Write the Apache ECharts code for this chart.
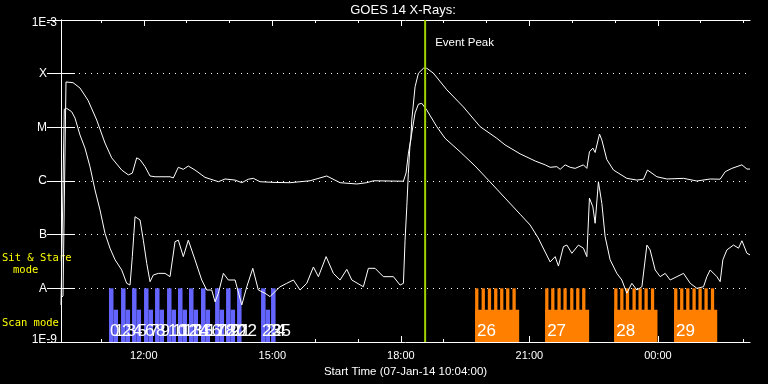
<!DOCTYPE html>
<html><head><meta charset="utf-8">
<script src="https://cdn.jsdelivr.net/npm/echarts@6/dist/echarts.min.js"></script>
<style>html,body{margin:0;padding:0;background:#000;}#c{width:768px;height:384px;}</style>
</head><body><div id="c"></div>
<script>
// x values: minutes after the start time 07-Jan-14 10:04:00
const startClockMin = 10 * 60 + 4;
const xMaxMin = 965;
const tickLabels = ['12:00', '15:00', '18:00', '21:00', '00:00'];
const yLevelLabels = ['1E-9', 'A', 'B', 'C', 'M', 'X', '1E-3'];
const yMin = 1e-9, yMax = 1e-3;
const sitLevel = 1e-8;   // Sit & Stare mode bar height
const scanLevel = 4e-9;  // Scan mode bar height
const eventPeakMin = 510;

// GOES 14 long channel (upper curve) [minutes, W/m^2]
const longChannel = [
 [0,6.6e-9],[2.8,7.2e-9],[7.0,7.0e-5],[16.8,6.8e-5],[26.6,5.4e-5],[37.8,3.2e-5],[50.0,1.37e-5],[61.6,5.1e-6],[71.0,2.7e-6],[85.0,1.6e-6],
 [94.3,1.3e-6],[99.9,1.4e-6],[106.0,2.7e-6],[110.7,2.5e-6],[117.7,1.85e-6],[124.7,1.24e-6],[131.7,1.2e-6],[152.7,1.2e-6],[157.3,1.14e-6],[164.3,1.8e-6],
 [171.3,1.65e-6],[178.3,1.9e-6],[187.7,1.6e-6],[201.7,1.17e-6],[220.4,0.97e-6],[229.8,1.09e-6],[243.8,1.04e-6],[253.2,0.93e-6],[262.4,1.08e-6],[269.4,1.12e-6],
 [278.8,0.97e-6],[299.8,0.94e-6],[320.8,0.93e-6],[348.8,1.01e-6],[372.2,1.24e-6],[390.9,0.93e-6],[414.3,0.88e-6],[428.3,0.93e-6],[437.5,1.01e-6],[479.6,0.99e-6],
 [483.3,1.41e-6],[486.6,3.3e-6],[489.9,5.8e-6],[491.3,1.37e-5],[495.9,5.7e-5],[500.6,1.02e-4],[507.6,1.26e-4],[512.3,1.26e-4],[521.6,1.02e-4],[540.4,5.0e-5],
 [563.6,2.4e-5],[587.0,1.03e-5],[610.4,6.25e-6],[622.0,4.7e-6],[643.1,3.2e-6],[664.1,2.36e-6],[678.1,2.0e-6],[685.1,1.8e-6],[694.5,1.85e-6],[699.1,1.65e-6],
 [706.1,2.0e-6],[713.1,1.8e-6],[720.1,1.72e-6],[731.7,2.0e-6],[736.5,1.72e-6],[740.1,3.5e-6],[744.9,4.1e-6],[748.1,3.4e-6],[754.2,7.5e-6],[757.5,5.8e-6],
 [764.5,2.5e-6],[773.8,1.6e-6],[792.5,1.12e-6],[806.6,1.04e-6],[815.8,1.08e-6],[821.4,1.6e-6],[834.6,1.2e-6],[848.6,1.09e-6],[871.9,1.12e-6],[890.6,1.0e-6],
 [909.2,1.09e-6],[923.2,1.08e-6],[930.3,1.49e-6],[939.6,1.72e-6],[953.7,2.0e-6],[960.7,1.67e-6],[965,1.67e-6]
];

// GOES 14 short channel (lower curve)
const shortChannel = [
 [0,4.9e-9],[2.8,4.5e-9],[4.6,2.17e-5],[8.0,2.26e-5],[15.0,1.95e-5],[19.6,1.49e-5],[26.6,7.2e-6],[33.6,4.1e-6],[40.6,1.85e-6],[47.6,6.8e-7],
 [54.6,2.9e-7],[61.6,1.06e-7],[68.6,5.6e-8],[75.7,3.4e-8],[85.0,2.2e-8],[92.0,1.24e-8],[96.7,1.15e-8],[99.9,3.9e-8],[103.7,2.16e-7],[110.7,1.88e-7],
 [115.3,7.9e-8],[120.1,2.9e-8],[124.7,1.33e-8],[129.3,1.77e-8],[136.3,1.9e-8],[145.7,1.9e-8],[152.7,1.65e-8],[159.7,7.4e-8],[164.3,7.9e-8],[171.3,3.9e-8],
 [178.3,7.9e-8],[187.7,3.4e-8],[197.1,1.43e-8],[204.1,9.3e-9],[211.1,9.3e-9],[215.8,5.6e-9],[220.4,8.1e-9],[227.4,1.9e-8],[234.4,1.43e-8],[243.8,1.43e-8],
 [253.2,4.9e-9],[260.2,1.07e-8],[268.6,2.36e-8],[276.4,9.3e-9],[285.8,8.1e-9],[292.8,7.0e-9],[297.4,8.1e-9],[306.8,1.07e-8],[316.2,1.24e-8],[325.5,1.43e-8],
 [334.8,9.3e-9],[344.2,1.24e-8],[353.5,2.5e-8],[360.5,1.65e-8],[371.3,3.9e-8],[381.5,1.9e-8],[390.9,1.43e-8],[400.3,2.26e-8],[407.3,1.43e-8],[423.5,1.07e-8],
 [430.5,2.36e-8],[439.9,2.36e-8],[451.5,1.65e-8],[465.6,1.65e-8],[474.9,1.15e-8],[479.6,1.24e-8],[481.9,7.9e-8],[484.3,3.3e-7],[486.5,1.39e-6],[488.9,5.0e-6],
 [495.9,1.85e-5],[500.6,2.7e-5],[505.3,2.8e-5],[512.3,2.1e-5],[526.3,1.03e-5],[537.9,6.25e-6],[559.0,3.5e-6],[580.0,1.9e-6],[601.0,9.6e-7],[622.0,4.8e-7],
 [643.1,2.4e-7],[657.1,1.51e-7],[668.3,8.7e-8],[678.1,4.75e-8],[685.1,3.1e-8],[692.1,3.9e-8],[696.7,2.6e-8],[703.7,6.0e-8],[708.5,6.4e-8],[715.5,4.5e-8],
 [724.7,6.4e-8],[731.7,5.6e-8],[736.5,3.9e-8],[740.1,4.8e-7],[744.9,3.3e-7],[748.1,1.63e-7],[752.7,9.7e-7],[757.5,3.8e-7],[762.1,9.2e-8],[769.1,3.4e-8],
 [778.5,1.9e-8],[785.5,1.43e-8],[792.5,8.1e-9],[799.5,1.24e-8],[806.6,9.3e-9],[813.6,1.07e-8],[820.6,6.4e-8],[825.1,5.2e-8],[832.2,2.2e-8],[839.2,1.65e-8],
 [846.2,1.9e-8],[853.2,1.43e-8],[862.6,1.65e-8],[871.9,1.9e-8],[881.3,1.24e-8],[890.6,1.0e-8],[899.9,1.07e-8],[904.6,1.65e-8],[909.2,2.2e-8],[918.6,1.65e-8],
 [923.2,1.33e-8],[927.0,3.4e-8],[932.6,5.2e-8],[941.9,6.4e-8],[948.9,5.6e-8],[953.7,7.7e-8],[960.7,4.5e-8],[965,4.2e-8]
];

// Blue observations: [label, start, end, mode]
const blueObs = [
 [0,67.2,73.5,'sit'],[1,73.5,79.8,'scan'],
 [2,84.1,90.4,'sit'],[3,90.4,96.7,'scan'],
 [4,99.5,105.8,'sit'],[5,105.8,112.1,'scan'],
 [6,116.3,122.6,'sit'],[7,122.6,128.9,'scan'],
 [8,131.7,138.0,'sit'],[9,138.0,144.3,'scan'],
 [10,148.5,154.8,'sit'],[11,154.8,161.1,'scan'],
 [12,163.9,170.2,'sit'],[13,170.2,176.5,'scan'],
 [14,179.3,185.6,'sit'],[15,185.6,191.9,'scan'],
 [16,196.1,202.4,'sit'],[17,202.4,208.7,'scan'],
 [18,215.8,222.1,'sit'],[19,222.1,228.4,'scan'],
 [20,231.2,237.5,'sit'],[21,237.5,243.8,'scan'],
 [22,246.6,252.9,'sit'],
 [23,280.2,286.5,'sit'],[24,286.5,292.8,'scan'],
 [25,294.2,300.5,'sit']
];

// Orange observations (scan mode span): [label, start, end]
const orangeObs = [[26,580.0,641.7],[27,678.1,739.7],[28,774.8,835.4],[29,858.7,919.1]];
// Orange sit & stare rasters: [start, end]
const orangeSit = [
 [580.0,584.6],[589.1,593.7],[597.8,602.4],[606.6,611.2],[615.0,619.6],[623.4,628.0],[632.3,636.9],
 [678.1,682.7],[686.5,691.1],[695.3,699.9],[703.7,708.3],[713.1,717.7],[721.5,726.1],[729.9,734.5],
 [774.8,779.4],[783.2,787.8],[791.1,795.7],[800.4,805.0],[808.8,813.4],[817.2,821.8],[826.2,830.8],
 [858.7,863.3],[867.1,871.7],[875.6,880.2],[884.4,889.0],[892.8,897.4],[901.2,905.8],[910.2,914.8]
];

const blueColor = '#6464ff', orangeColor = '#ff8000', peakColor = '#a0d000';
const FONT = '"Liberation Sans", Arial, sans-serif';

function clockToMin(s) {
  const [h, m] = s.split(':').map(Number);
  let t = h * 60 + m - startClockMin;
  if (t < 0) t += 24 * 60;
  return t;
}
const majorTicks = tickLabels.map(clockToMin);
const minorTicks = [];
for (let t = 60 - 4; t <= xMaxMin; t += 60) minorTicks.push(t);
function fmtClock(v) {
  const tot = Math.round(startClockMin + v) % (24 * 60);
  const h = Math.floor(tot / 60), m = tot % 60;
  return String(h).padStart(2, '0') + ':' + String(m).padStart(2, '0');
}

const blueData = blueObs.map(o => [o[1], o[2], o[3] === 'sit' ? sitLevel : scanLevel]);
const blueLabels = blueObs.map(o => [o[1], o[0]]);
const orangeBlockData = orangeObs.map(o => [o[1], o[2], scanLevel]);
const orangeSitData = orangeSit.map(o => [o[0], o[1], sitLevel]);
const orangeLabels = orangeObs.map(o => [o[1], o[0]]);

function barRender(color) {
  return function (params, api) {
    const a = api.coord([api.value(0), api.value(2)]);
    const b = api.coord([api.value(1), yMin]);
    return { type: 'rect', shape: { x: a[0], y: a[1], width: b[0] - a[0], height: b[1] - a[1] }, style: { fill: color } };
  };
}
function labelRender(dx) {
  return function (params, api) {
    const p = api.coord([api.value(0), yMin]);
    return { type: 'text', x: p[0] + dx, y: p[1] - 2,
      style: { text: String(api.value(1)), fill: '#fff', font: '17px ' + FONT, align: 'left', verticalAlign: 'bottom' } };
  };
}

const xBase = { type: 'value', min: 0, max: xMaxMin, splitLine: { show: false }, gridIndex: 0 };
const white = { color: '#fff', width: 1 };

const option = {
  backgroundColor: '#000',
  animation: false,
  grid: { left: 61, right: 18, top: 20, bottom: 42 },
  xAxis: [
    Object.assign({}, xBase, {
      position: 'bottom',
      axisLine: { show: true, lineStyle: white },
      axisTick: { show: true, inside: true, length: 6, customValues: majorTicks, lineStyle: white },
      axisLabel: { show: true, customValues: majorTicks, formatter: fmtClock, color: '#fff', fontSize: 11, fontFamily: FONT, margin: 8 },
      name: 'Start Time (07-Jan-14 10:04:00)', nameLocation: 'middle', nameGap: 21,
      nameTextStyle: { color: '#fff', fontSize: 11.5, fontFamily: FONT }
    }),
    Object.assign({}, xBase, {
      position: 'bottom',
      axisLine: { show: false },
      axisTick: { show: true, inside: true, length: 3, customValues: minorTicks, lineStyle: white },
      axisLabel: { show: false }
    }),
    Object.assign({}, xBase, {
      position: 'top',
      axisLine: { show: true, lineStyle: white },
      axisTick: { show: true, inside: true, length: 6, customValues: majorTicks, lineStyle: white },
      axisLabel: { show: false }
    }),
    Object.assign({}, xBase, {
      position: 'top',
      axisLine: { show: false },
      axisTick: { show: true, inside: true, length: 3, customValues: minorTicks, lineStyle: white },
      axisLabel: { show: false }
    })
  ],
  yAxis: [
    {
      type: 'log', logBase: 10, min: yMin, max: yMax, interval: 1, position: 'left',
      axisLine: { show: true, lineStyle: white },
      axisTick: { show: true, inside: true, length: 14, lineStyle: white },
      splitLine: { show: true, lineStyle: { color: '#fff', width: 1, type: [1, 5] } },
      axisLabel: {
        color: '#fff', fontSize: 12, fontFamily: FONT, margin: 4,
        formatter: function (v) {
          const e = Math.round(Math.log10(v));
          const lbl = yLevelLabels[e + 9];
          if (e === -3) return '{t|' + lbl + '}';
          if (e === -9) return '{b|' + lbl + '}';
          return '{l|' + lbl + '}';
        },
        rich: {
          t: { color: '#fff', fontSize: 12, fontFamily: FONT, padding: [6, 0, 0, 0] },
          b: { color: '#fff', fontSize: 12, fontFamily: FONT, padding: [0, 0, 4, 0] },
          l: { color: '#fff', fontSize: 12, fontFamily: FONT, padding: [0, 10, 0, 0] }
        }
      }
    },
    {
      type: 'log', logBase: 10, min: yMin, max: yMax, interval: 1, position: 'right',
      axisLine: { show: true, lineStyle: white },
      axisTick: { show: true, inside: true, length: 14, lineStyle: white },
      splitLine: { show: false },
      axisLabel: { show: false }
    }
  ],
  graphic: [
    { type: 'text', x: 403, y: 10, style: { text: 'GOES 14 X-Rays:', fill: '#fff', font: '13px ' + FONT, align: 'center', verticalAlign: 'middle' } },
    { type: 'text', x: 2, y: 258, style: { text: 'Sit & Stare', fill: '#ffff00', font: '10.5px "DejaVu Sans Mono", monospace', verticalAlign: 'middle' } },
    { type: 'text', x: 13, y: 270, style: { text: 'mode', fill: '#ffff00', font: '10.5px "DejaVu Sans Mono", monospace', verticalAlign: 'middle' } },
    { type: 'text', x: 2, y: 323, style: { text: 'Scan mode', fill: '#ffff00', font: '10.5px "DejaVu Sans Mono", monospace', verticalAlign: 'middle' } }
  ],
  series: [
    { type: 'custom', name: 'blue', renderItem: barRender(blueColor), data: blueData, encode: { x: [0, 1], y: 2 }, z: 1, silent: true },
    { type: 'custom', name: 'orangeScan', renderItem: barRender(orangeColor), data: orangeBlockData, encode: { x: [0, 1], y: 2 }, z: 1, silent: true },
    { type: 'custom', name: 'orangeSit', renderItem: barRender(orangeColor), data: orangeSitData, encode: { x: [0, 1], y: 2 }, z: 1, silent: true },
    { type: 'line', name: 'long', data: longChannel, showSymbol: false, symbol: 'none', lineStyle: { color: '#fff', width: 1 }, z: 3, silent: true },
    { type: 'line', name: 'short', data: shortChannel, showSymbol: false, symbol: 'none', lineStyle: { color: '#fff', width: 1 }, z: 3, silent: true },
    { type: 'custom', name: 'blueLabels', renderItem: labelRender(1), data: blueLabels, encode: { x: 0 }, z: 4, silent: true },
    { type: 'custom', name: 'orangeLabels', renderItem: labelRender(2), data: orangeLabels, encode: { x: 0 }, z: 4, silent: true },
    { type: 'custom', name: 'eventPeak', data: [[eventPeakMin]], encode: { x: 0 }, z: 5, silent: true,
      renderItem: function (params, api) {
        const t = api.coord([api.value(0), yMax]);
        const b = api.coord([api.value(0), yMin]);
        return { type: 'group', children: [
          { type: 'line', shape: { x1: t[0], y1: t[1], x2: b[0], y2: b[1] }, style: { stroke: peakColor, lineWidth: 2 } },
          { type: 'text', x: t[0] + 10, y: t[1] + 23, style: { text: 'Event Peak', fill: '#fff', font: '11.5px ' + FONT, verticalAlign: 'middle' } }
        ] };
      }
    }
  ]
};
const chart = echarts.init(document.getElementById('c'), null, { renderer: 'canvas' });
chart.setOption(option);
</script></body></html>
